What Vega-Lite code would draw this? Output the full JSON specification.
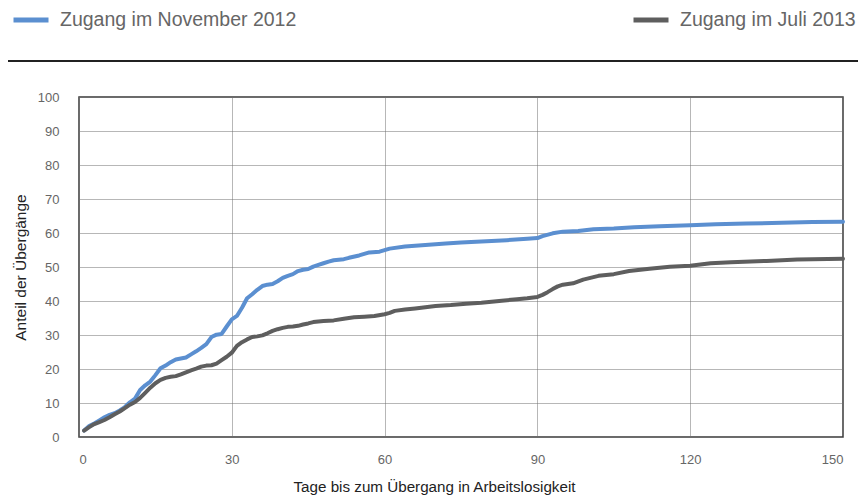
{
  "$schema": "https://vega.github.io/schema/vega-lite/v6.json",
  "width": 764,
  "height": 340,
  "autosize": {"type": "none"},
  "padding": {"left": 79, "top": 97, "right": 17, "bottom": 60},
  "background": "white",
  "config": {
    "font": "Liberation Sans",
    "view": {"stroke": "#3a3a3a", "strokeWidth": 1.5}
  },
  "datasets": {
    "kurven": [
      {"tag": 1, "serie": "Zugang im November 2012", "anteil": 1.9},
      {"tag": 2, "serie": "Zugang im November 2012", "anteil": 3.2},
      {"tag": 3, "serie": "Zugang im November 2012", "anteil": 4.0},
      {"tag": 4, "serie": "Zugang im November 2012", "anteil": 4.9},
      {"tag": 5, "serie": "Zugang im November 2012", "anteil": 5.8},
      {"tag": 6, "serie": "Zugang im November 2012", "anteil": 6.5},
      {"tag": 7, "serie": "Zugang im November 2012", "anteil": 7.0},
      {"tag": 8, "serie": "Zugang im November 2012", "anteil": 7.8},
      {"tag": 9, "serie": "Zugang im November 2012", "anteil": 8.8},
      {"tag": 10, "serie": "Zugang im November 2012", "anteil": 10.2},
      {"tag": 11, "serie": "Zugang im November 2012", "anteil": 11.3},
      {"tag": 12, "serie": "Zugang im November 2012", "anteil": 13.8},
      {"tag": 13, "serie": "Zugang im November 2012", "anteil": 15.2},
      {"tag": 14, "serie": "Zugang im November 2012", "anteil": 16.3},
      {"tag": 15, "serie": "Zugang im November 2012", "anteil": 18.2},
      {"tag": 16, "serie": "Zugang im November 2012", "anteil": 20.2},
      {"tag": 17, "serie": "Zugang im November 2012", "anteil": 21.0},
      {"tag": 18, "serie": "Zugang im November 2012", "anteil": 22.0},
      {"tag": 19, "serie": "Zugang im November 2012", "anteil": 22.8},
      {"tag": 20, "serie": "Zugang im November 2012", "anteil": 23.1},
      {"tag": 21, "serie": "Zugang im November 2012", "anteil": 23.4},
      {"tag": 22, "serie": "Zugang im November 2012", "anteil": 24.3},
      {"tag": 23, "serie": "Zugang im November 2012", "anteil": 25.2},
      {"tag": 24, "serie": "Zugang im November 2012", "anteil": 26.2},
      {"tag": 25, "serie": "Zugang im November 2012", "anteil": 27.3},
      {"tag": 26, "serie": "Zugang im November 2012", "anteil": 29.4},
      {"tag": 27, "serie": "Zugang im November 2012", "anteil": 30.1},
      {"tag": 28, "serie": "Zugang im November 2012", "anteil": 30.3},
      {"tag": 29, "serie": "Zugang im November 2012", "anteil": 32.5},
      {"tag": 30, "serie": "Zugang im November 2012", "anteil": 34.6},
      {"tag": 31, "serie": "Zugang im November 2012", "anteil": 35.6},
      {"tag": 32, "serie": "Zugang im November 2012", "anteil": 38.0},
      {"tag": 33, "serie": "Zugang im November 2012", "anteil": 40.8},
      {"tag": 34, "serie": "Zugang im November 2012", "anteil": 42.0},
      {"tag": 35, "serie": "Zugang im November 2012", "anteil": 43.3},
      {"tag": 36, "serie": "Zugang im November 2012", "anteil": 44.4},
      {"tag": 37, "serie": "Zugang im November 2012", "anteil": 44.8},
      {"tag": 38, "serie": "Zugang im November 2012", "anteil": 45.0},
      {"tag": 39, "serie": "Zugang im November 2012", "anteil": 45.8},
      {"tag": 40, "serie": "Zugang im November 2012", "anteil": 46.8},
      {"tag": 41, "serie": "Zugang im November 2012", "anteil": 47.4},
      {"tag": 42, "serie": "Zugang im November 2012", "anteil": 47.9},
      {"tag": 43, "serie": "Zugang im November 2012", "anteil": 48.8},
      {"tag": 44, "serie": "Zugang im November 2012", "anteil": 49.2},
      {"tag": 45, "serie": "Zugang im November 2012", "anteil": 49.4},
      {"tag": 46, "serie": "Zugang im November 2012", "anteil": 50.1},
      {"tag": 47, "serie": "Zugang im November 2012", "anteil": 50.6},
      {"tag": 48, "serie": "Zugang im November 2012", "anteil": 51.1},
      {"tag": 49, "serie": "Zugang im November 2012", "anteil": 51.6},
      {"tag": 50, "serie": "Zugang im November 2012", "anteil": 52.0},
      {"tag": 52, "serie": "Zugang im November 2012", "anteil": 52.3},
      {"tag": 53, "serie": "Zugang im November 2012", "anteil": 52.7},
      {"tag": 55, "serie": "Zugang im November 2012", "anteil": 53.4},
      {"tag": 57, "serie": "Zugang im November 2012", "anteil": 54.3},
      {"tag": 59, "serie": "Zugang im November 2012", "anteil": 54.5},
      {"tag": 61, "serie": "Zugang im November 2012", "anteil": 55.4},
      {"tag": 64, "serie": "Zugang im November 2012", "anteil": 56.0},
      {"tag": 68, "serie": "Zugang im November 2012", "anteil": 56.5},
      {"tag": 72, "serie": "Zugang im November 2012", "anteil": 56.9},
      {"tag": 75, "serie": "Zugang im November 2012", "anteil": 57.2},
      {"tag": 79, "serie": "Zugang im November 2012", "anteil": 57.5},
      {"tag": 84, "serie": "Zugang im November 2012", "anteil": 57.9},
      {"tag": 88, "serie": "Zugang im November 2012", "anteil": 58.3},
      {"tag": 90, "serie": "Zugang im November 2012", "anteil": 58.5},
      {"tag": 91, "serie": "Zugang im November 2012", "anteil": 59.1},
      {"tag": 93, "serie": "Zugang im November 2012", "anteil": 59.9},
      {"tag": 95, "serie": "Zugang im November 2012", "anteil": 60.4},
      {"tag": 98, "serie": "Zugang im November 2012", "anteil": 60.6},
      {"tag": 101, "serie": "Zugang im November 2012", "anteil": 61.1},
      {"tag": 105, "serie": "Zugang im November 2012", "anteil": 61.3},
      {"tag": 109, "serie": "Zugang im November 2012", "anteil": 61.7},
      {"tag": 114, "serie": "Zugang im November 2012", "anteil": 62.0},
      {"tag": 120, "serie": "Zugang im November 2012", "anteil": 62.3},
      {"tag": 125, "serie": "Zugang im November 2012", "anteil": 62.6},
      {"tag": 131, "serie": "Zugang im November 2012", "anteil": 62.8},
      {"tag": 138, "serie": "Zugang im November 2012", "anteil": 63.0},
      {"tag": 144, "serie": "Zugang im November 2012", "anteil": 63.2},
      {"tag": 150, "serie": "Zugang im November 2012", "anteil": 63.3},
      {"tag": 1, "serie": "Zugang im Juli 2013", "anteil": 1.9},
      {"tag": 2, "serie": "Zugang im Juli 2013", "anteil": 2.9},
      {"tag": 3, "serie": "Zugang im Juli 2013", "anteil": 3.8},
      {"tag": 4, "serie": "Zugang im Juli 2013", "anteil": 4.4},
      {"tag": 5, "serie": "Zugang im Juli 2013", "anteil": 5.0},
      {"tag": 6, "serie": "Zugang im Juli 2013", "anteil": 5.8},
      {"tag": 7, "serie": "Zugang im Juli 2013", "anteil": 6.7},
      {"tag": 8, "serie": "Zugang im Juli 2013", "anteil": 7.5},
      {"tag": 9, "serie": "Zugang im Juli 2013", "anteil": 8.5},
      {"tag": 10, "serie": "Zugang im Juli 2013", "anteil": 9.5},
      {"tag": 11, "serie": "Zugang im Juli 2013", "anteil": 10.3},
      {"tag": 12, "serie": "Zugang im Juli 2013", "anteil": 11.5},
      {"tag": 13, "serie": "Zugang im Juli 2013", "anteil": 13.0},
      {"tag": 14, "serie": "Zugang im Juli 2013", "anteil": 14.5},
      {"tag": 15, "serie": "Zugang im Juli 2013", "anteil": 15.8},
      {"tag": 16, "serie": "Zugang im Juli 2013", "anteil": 16.8},
      {"tag": 17, "serie": "Zugang im Juli 2013", "anteil": 17.4},
      {"tag": 18, "serie": "Zugang im Juli 2013", "anteil": 17.7},
      {"tag": 19, "serie": "Zugang im Juli 2013", "anteil": 17.9},
      {"tag": 20, "serie": "Zugang im Juli 2013", "anteil": 18.4},
      {"tag": 21, "serie": "Zugang im Juli 2013", "anteil": 19.0},
      {"tag": 22, "serie": "Zugang im Juli 2013", "anteil": 19.6},
      {"tag": 23, "serie": "Zugang im Juli 2013", "anteil": 20.1},
      {"tag": 24, "serie": "Zugang im Juli 2013", "anteil": 20.7},
      {"tag": 25, "serie": "Zugang im Juli 2013", "anteil": 21.0},
      {"tag": 26, "serie": "Zugang im Juli 2013", "anteil": 21.1},
      {"tag": 27, "serie": "Zugang im Juli 2013", "anteil": 21.6},
      {"tag": 28, "serie": "Zugang im Juli 2013", "anteil": 22.6},
      {"tag": 29, "serie": "Zugang im Juli 2013", "anteil": 23.6},
      {"tag": 30, "serie": "Zugang im Juli 2013", "anteil": 24.8},
      {"tag": 31, "serie": "Zugang im Juli 2013", "anteil": 26.8},
      {"tag": 32, "serie": "Zugang im Juli 2013", "anteil": 27.9},
      {"tag": 33, "serie": "Zugang im Juli 2013", "anteil": 28.7},
      {"tag": 34, "serie": "Zugang im Juli 2013", "anteil": 29.4},
      {"tag": 35, "serie": "Zugang im Juli 2013", "anteil": 29.6},
      {"tag": 36, "serie": "Zugang im Juli 2013", "anteil": 29.9},
      {"tag": 37, "serie": "Zugang im Juli 2013", "anteil": 30.5},
      {"tag": 38, "serie": "Zugang im Juli 2013", "anteil": 31.2},
      {"tag": 39, "serie": "Zugang im Juli 2013", "anteil": 31.7},
      {"tag": 40, "serie": "Zugang im Juli 2013", "anteil": 32.1},
      {"tag": 41, "serie": "Zugang im Juli 2013", "anteil": 32.4},
      {"tag": 42, "serie": "Zugang im Juli 2013", "anteil": 32.5},
      {"tag": 43, "serie": "Zugang im Juli 2013", "anteil": 32.7},
      {"tag": 44, "serie": "Zugang im Juli 2013", "anteil": 33.1},
      {"tag": 45, "serie": "Zugang im Juli 2013", "anteil": 33.4},
      {"tag": 46, "serie": "Zugang im Juli 2013", "anteil": 33.8},
      {"tag": 47, "serie": "Zugang im Juli 2013", "anteil": 34.0},
      {"tag": 48, "serie": "Zugang im Juli 2013", "anteil": 34.1},
      {"tag": 50, "serie": "Zugang im Juli 2013", "anteil": 34.3},
      {"tag": 52, "serie": "Zugang im Juli 2013", "anteil": 34.8},
      {"tag": 54, "serie": "Zugang im Juli 2013", "anteil": 35.2},
      {"tag": 56, "serie": "Zugang im Juli 2013", "anteil": 35.4},
      {"tag": 58, "serie": "Zugang im Juli 2013", "anteil": 35.6},
      {"tag": 60, "serie": "Zugang im Juli 2013", "anteil": 36.1},
      {"tag": 61, "serie": "Zugang im Juli 2013", "anteil": 36.5},
      {"tag": 62, "serie": "Zugang im Juli 2013", "anteil": 37.1},
      {"tag": 64, "serie": "Zugang im Juli 2013", "anteil": 37.5},
      {"tag": 66, "serie": "Zugang im Juli 2013", "anteil": 37.8},
      {"tag": 70, "serie": "Zugang im Juli 2013", "anteil": 38.5},
      {"tag": 73, "serie": "Zugang im Juli 2013", "anteil": 38.8},
      {"tag": 76, "serie": "Zugang im Juli 2013", "anteil": 39.2},
      {"tag": 79, "serie": "Zugang im Juli 2013", "anteil": 39.5},
      {"tag": 83, "serie": "Zugang im Juli 2013", "anteil": 40.1},
      {"tag": 86, "serie": "Zugang im Juli 2013", "anteil": 40.5},
      {"tag": 88, "serie": "Zugang im Juli 2013", "anteil": 40.8},
      {"tag": 90, "serie": "Zugang im Juli 2013", "anteil": 41.2},
      {"tag": 91, "serie": "Zugang im Juli 2013", "anteil": 41.8},
      {"tag": 92, "serie": "Zugang im Juli 2013", "anteil": 42.6},
      {"tag": 93, "serie": "Zugang im Juli 2013", "anteil": 43.5},
      {"tag": 94, "serie": "Zugang im Juli 2013", "anteil": 44.3},
      {"tag": 95, "serie": "Zugang im Juli 2013", "anteil": 44.8},
      {"tag": 97, "serie": "Zugang im Juli 2013", "anteil": 45.2},
      {"tag": 99, "serie": "Zugang im Juli 2013", "anteil": 46.3},
      {"tag": 102, "serie": "Zugang im Juli 2013", "anteil": 47.4},
      {"tag": 105, "serie": "Zugang im Juli 2013", "anteil": 47.9},
      {"tag": 108, "serie": "Zugang im Juli 2013", "anteil": 48.8},
      {"tag": 112, "serie": "Zugang im Juli 2013", "anteil": 49.5},
      {"tag": 116, "serie": "Zugang im Juli 2013", "anteil": 50.1},
      {"tag": 120, "serie": "Zugang im Juli 2013", "anteil": 50.4},
      {"tag": 124, "serie": "Zugang im Juli 2013", "anteil": 51.1},
      {"tag": 128, "serie": "Zugang im Juli 2013", "anteil": 51.4},
      {"tag": 135, "serie": "Zugang im Juli 2013", "anteil": 51.8},
      {"tag": 141, "serie": "Zugang im Juli 2013", "anteil": 52.2},
      {"tag": 150, "serie": "Zugang im Juli 2013", "anteil": 52.4}
    ]
  },
  "data": {"name": "kurven"},
  "encoding": {
    "x": {
      "field": "tag",
      "type": "quantitative",
      "scale": {"domain": [0, 150], "nice": false, "zero": false},
      "axis": {
        "values": [0, 30, 60, 90, 120, 150],
        "grid": true,
        "gridColor": "#6e6e6e",
        "gridDash": [1, 1],
        "gridWidth": 1,
        "ticks": false,
        "domain": false,
        "labelFontSize": 13,
        "labelColor": "#666666",
        "labelPadding": 16,
        "title": "Tage bis zum Übergang in Arbeitslosigkeit",
        "titleFontSize": 15.2,
        "titleFontWeight": "normal",
        "titleColor": "#222222",
        "titlePadding": 13,
        "titleX": 355,
        "titleAlign": "center"
      }
    },
    "y": {
      "field": "anteil",
      "type": "quantitative",
      "scale": {"domain": [0, 100], "nice": false},
      "axis": {
        "values": [0, 10, 20, 30, 40, 50, 60, 70, 80, 90, 100],
        "labelOverlap": false,
        "grid": true,
        "gridColor": "#6e6e6e",
        "gridDash": [1, 1],
        "gridWidth": 1,
        "ticks": false,
        "domain": false,
        "labelFontSize": 13,
        "labelColor": "#666666",
        "labelPadding": 20,
        "title": "Anteil der Übergänge",
        "titleFontSize": 15.5,
        "titleFontWeight": "normal",
        "titleColor": "#222222",
        "titlePadding": 9
      }
    }
  },
  "layer": [
    {
      "mark": {"type": "line", "strokeWidth": 4, "strokeCap": "round", "strokeJoin": "round"},
      "encoding": {
        "color": {
          "field": "serie",
          "type": "nominal",
          "scale": {
            "domain": ["Zugang im November 2012", "Zugang im Juli 2013"],
            "range": ["#5b8fd0", "#5e5e5e"]
          },
          "legend": {
            "title": null,
            "orient": "none",
            "legendX": -68,
            "legendY": -97,
            "direction": "horizontal",
            "columns": 2,
            "columnPadding": 326,
            "symbolType": "stroke",
            "symbolSize": 1225,
            "symbolStrokeWidth": 5,
            "labelFontSize": 19.5,
            "labelColor": "#666666",
            "labelOffset": 9,
            "labelLimit": 400
          }
        }
      }
    },
    {
      "mark": {"type": "rule", "clip": false, "color": "#222222", "strokeWidth": 1},
      "encoding": {
        "x": {"datum": -13.9},
        "x2": {"datum": 152.8},
        "y": {"datum": 110.6}
      }
    }
  ]
}
